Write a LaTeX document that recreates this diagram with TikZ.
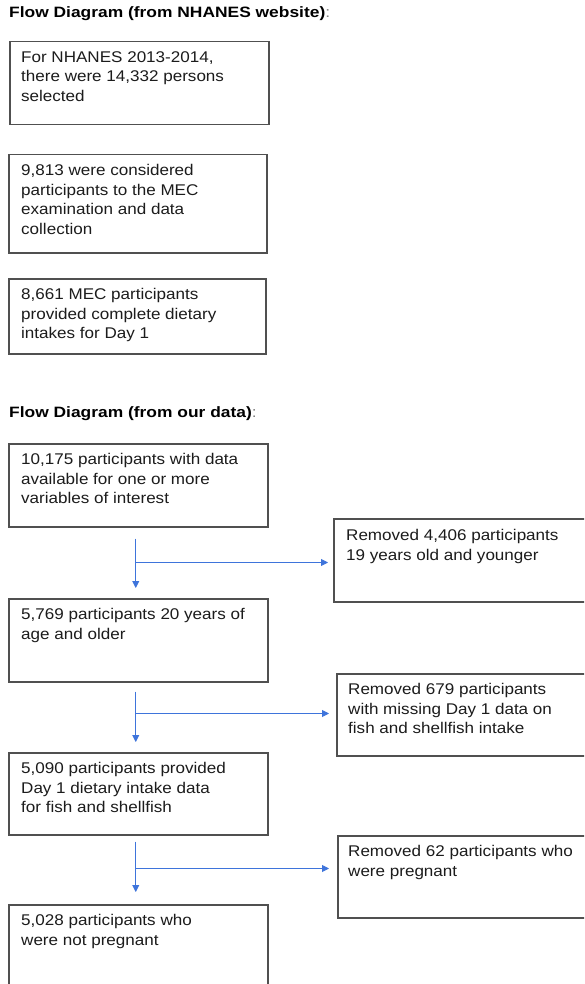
\documentclass[tikz,border=0pt]{standalone}
\usepackage{fontspec}
\usetikzlibrary{arrows.meta,calc}
\newfontfamily\bodyfont{Liberation Sans}[FakeStretch=1.1]
\newfontfamily\headfont{Liberation Sans}[FakeStretch=1.16]
\definecolor{txtc}{HTML}{1C1C1C}
\definecolor{boxc}{HTML}{505050}
\definecolor{arrc}{HTML}{3E74DB}
\definecolor{colonc}{HTML}{808080}
\tikzset{
  box/.style={draw=boxc, line width=1.5pt, rectangle, inner sep=0pt, anchor=north west},
  txt/.style={anchor=north west, inner sep=0pt, align=left, text=txtc,
    font=\bodyfont\fontsize{15.5}{19.7}\selectfont},
  head/.style={anchor=base west, inner sep=0pt, text=black,
    font=\headfont\bfseries\fontsize{15}{18}\selectfont},
  arr/.style={draw=arrc, line width=0.9pt, -{Triangle[length=7pt,width=7pt]}}
}
\begin{document}
\begin{tikzpicture}[x=1pt,y=-1pt]
\clip (0,0) rectangle (584,984);
\fill[white] (0,0) rectangle (584,984);

% titles
\node[head] (t1) at (9,18) {Flow Diagram (from NHANES website){\mdseries\color{colonc}:}};
\node[head] (t2) at (9,417) {Flow Diagram (from our data){\mdseries\color{colonc}:}};

% NHANES boxes
\node[box, minimum width=259pt, minimum height=83pt] (a) at (9,41) {};
\node[box, minimum width=258pt, minimum height=98pt] (b) at (8,154) {};
\node[box, minimum width=257pt, minimum height=75pt] (c) at (8,278) {};
\node[txt] (at) at ($(a.north west)+(12,10)$) {For NHANES 2013-2014,\\there were 14,332 persons\\selected};
\node[txt] (bt) at ($(b.north west)+(13,10)$) {9,813 were considered\\participants to the MEC\\examination and data\\collection};
\node[txt] (ct) at ($(c.north west)+(13,10)$) {8,661 MEC participants\\provided complete dietary\\intakes for Day 1};

% our data boxes
\node[box, minimum width=259pt, minimum height=83pt] (d) at (8,443) {};
\node[box, minimum width=259pt, minimum height=83pt] (e) at (8,598) {};
\node[box, minimum width=259pt, minimum height=82pt] (f) at (8,752) {};
\node[box, minimum width=259pt, minimum height=90pt] (g) at (8,904) {};
\node[txt] (dt) at ($(d.north west)+(13,10)$) {10,175 participants with data\\available for one or more\\variables of interest};
\node[txt] (et) at ($(e.north west)+(13,10)$) {5,769 participants 20 years of\\age and older};
\node[txt] (ft) at ($(f.north west)+(13,10)$) {5,090 participants provided\\Day 1 dietary intake data\\for fish and shellfish};
\node[txt] (gt) at ($(g.north west)+(13,10)$) {5,028 participants who\\were not pregnant};

% removed boxes
\node[box, minimum width=257pt, minimum height=83pt] (r1) at (333,518) {};
\node[box, minimum width=254pt, minimum height=82pt] (r2) at (336,673) {};
\node[box, minimum width=253pt, minimum height=82pt] (r3) at (337,835) {};
\node[txt] (r1t) at ($(r1.north west)+(13,11)$) {Removed 4,406 participants\\19 years old and younger};
\node[txt] (r2t) at ($(r2.north west)+(12,10)$) {Removed 679 participants\\with missing Day 1 data on\\fish and shellfish intake};
\node[txt] (r3t) at ($(r3.north west)+(11,10)$) {Removed 62 participants who\\were pregnant};

% connectors
\coordinate (s1) at ($(d.south)+(-2.5,11)$);
\coordinate (e1) at ($(e.north)+(-2.5,-10)$);
\coordinate (j1) at ($(d.south)+(-2.5,35)$);
\draw[arr] (s1) -- (e1);
\draw[arr, shorten >=5pt] (j1) -- (j1 -| r1.west);

\coordinate (s2) at ($(e.south)+(-2.5,9)$);
\coordinate (e2) at ($(f.north)+(-2.5,-10)$);
\coordinate (j2) at ($(e.south)+(-2.5,31)$);
\draw[arr] (s2) -- (e2);
\draw[arr, shorten >=7pt] (j2) -- (j2 -| r2.west);

\coordinate (s3) at ($(f.south)+(-2.5,6)$);
\coordinate (e3) at ($(g.north)+(-2.5,-12)$);
\coordinate (j3) at ($(f.south)+(-2.5,33)$);
\draw[arr] (s3) -- (e3);
\draw[arr, shorten >=8pt] (j3) -- (j3 -| r3.west);
\end{tikzpicture}
\end{document}
